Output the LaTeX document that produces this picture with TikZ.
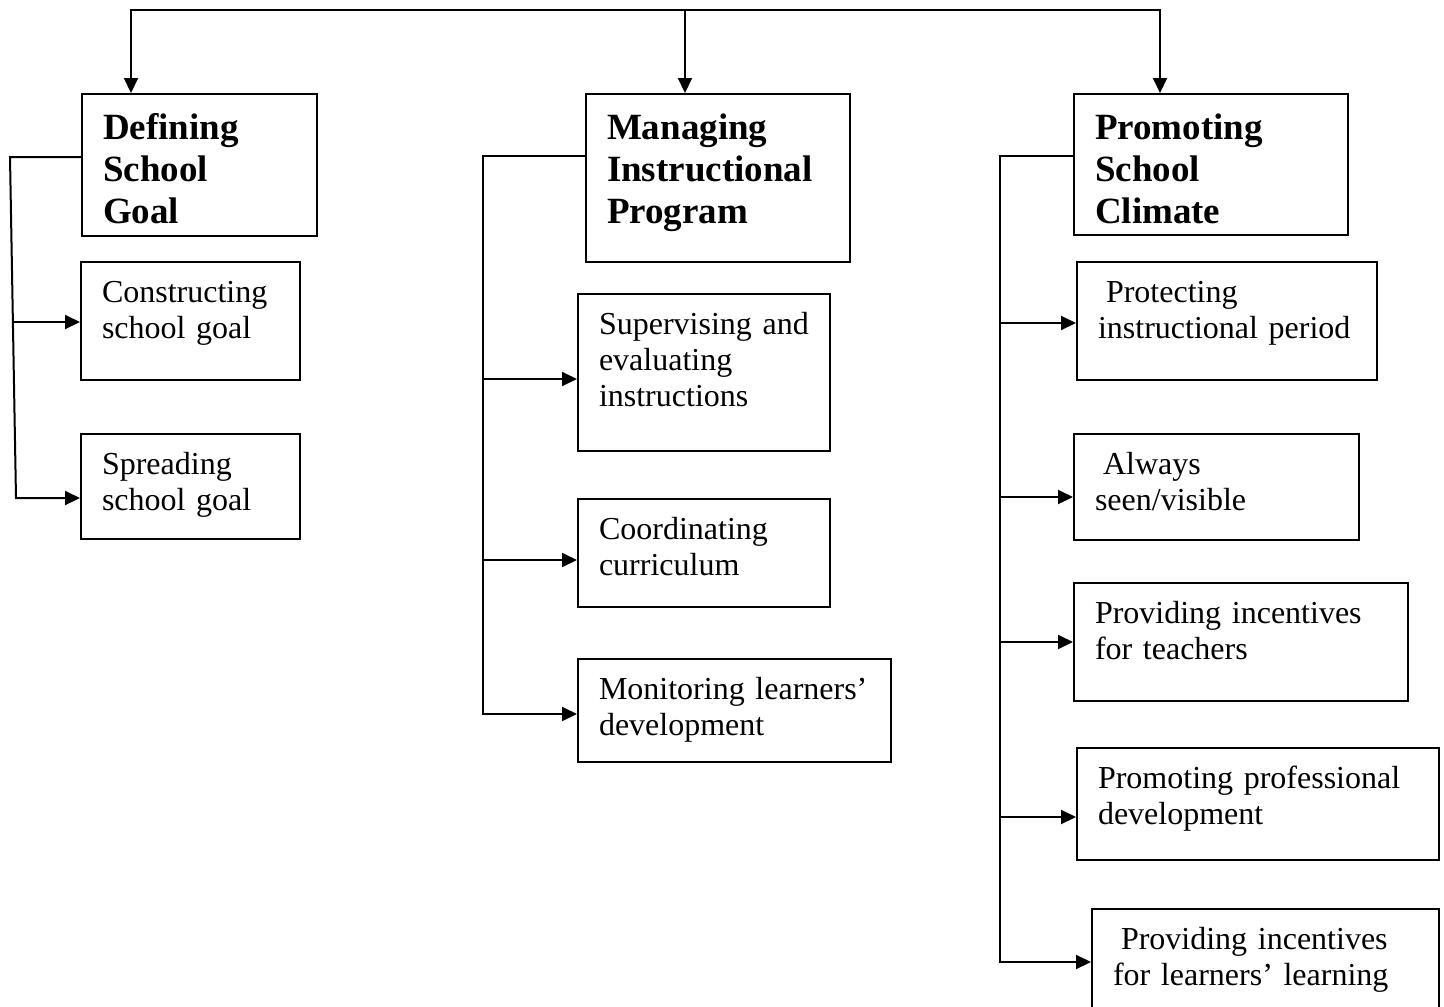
\documentclass[tikz,border=0pt]{standalone}
\usepackage{fontspec}
\setmainfont{Liberation Serif}
\usetikzlibrary{arrows.meta}

\begin{document}
\begin{tikzpicture}[x=1pt, y=-1pt, line width=2pt, >={Triangle[length=15pt,width=14pt]},
    headbox/.style={draw, anchor=north west, align=left, inner xsep=21pt, inner ysep=0pt,
      text height=45pt, font=\fontsize{37}{42}\selectfont\bfseries},
    itembox/.style={draw, anchor=north west, align=left, inner xsep=21pt, inner ysep=0pt,
      text height=40pt, font=\fontsize{32}{36}\selectfont}]
    \useasboundingbox (0,0) rectangle (1444,1007);

    % Main functions
    \node[headbox, text width=193pt, text depth=97pt] (goal) at (81,93) {Defining\\School\\Goal};
    \node[headbox, text width=222pt, text depth=123pt] (prog) at (585,93) {Managing\\Instructional\\Program};
    \node[headbox, text width=232pt, text depth=96pt] (clim) at (1073,93) {Promoting\\School\\Climate};

    % Top connector
    \coordinate (t1) at (131,10);
    \coordinate (t2) at (685,10);
    \coordinate (t3) at (1160,10);
    \draw[<->] (t1 |- goal.north) -- (t1) -- (t3) -- (t3 |- clim.north);
    \draw[->] (t2) -- (t2 |- prog.north);

    % Defining school goal
    \node[itembox, text width=177pt, text depth=78pt] (cons) at (80,261) {Constructing\\school goal};
    \node[itembox, text width=177pt, text depth=65pt] (spread) at (80,433) {Spreading\\school goal};
    \coordinate (g0) at (10,157);
    \coordinate (g1) at (13,322);
    \coordinate (g2) at (16,498);
    \draw[->] (goal.west |- g0) -- (g0) -- (g2) -- (g2 -| spread.west);
    \draw[->] (g1) -- (g1 -| cons.west);

    % Managing instructional program
    \node[itembox, text width=210pt, text depth=117pt] (superv) at (577,293) {Supervising and\\evaluating\\instructions};
    \node[itembox, text width=210pt, text depth=68pt] (coord) at (577,498) {Coordinating\\curriculum};
    \node[itembox, text width=271pt, text depth=63pt] (monit) at (577,658) {Monitoring learners'\\development};
    \coordinate (m0) at (483,156);
    \coordinate (m9) at (483,714);
    \draw[->] (prog.west |- m0) -- (m0) -- (m9) -- (m9 -| monit.west);
    \foreach \b/\y in {superv/379, coord/560} {
        \coordinate (a) at (483,\y);
        \draw[->] (a) -- (a -| \b.west);
    }

    % Promoting school climate
    \node[itembox, text width=258pt, text depth=78pt] (protect) at (1076,261) {\hspace*{8pt}Protecting\\instructional period};
    \node[itembox, text width=243pt, text depth=66pt] (visible) at (1073,433) {\hspace*{8pt}Always\\seen/visible};
    \node[itembox, text width=292pt, text depth=78pt] (incteach) at (1073,582) {Providing incentives\\for teachers};
    \node[itembox, text width=320pt, text depth=72pt] (profdev) at (1076,747) {Promoting professional\\development};
    \node[itembox, text width=305pt, text depth=72pt] (inclearn) at (1091,908) {\hspace*{8pt}Providing incentives\\for learners' learning};
    \coordinate (c0) at (1000,156);
    \coordinate (c9) at (1000,962);
    \draw[->] (clim.west |- c0) -- (c0) -- (c9) -- (c9 -| inclearn.west);
    \foreach \b/\y in {protect/323, visible/497, incteach/642, profdev/817} {
        \coordinate (a) at (1000,\y);
        \draw[->] (a) -- (a -| \b.west);
    }
\end{tikzpicture}
\end{document}
